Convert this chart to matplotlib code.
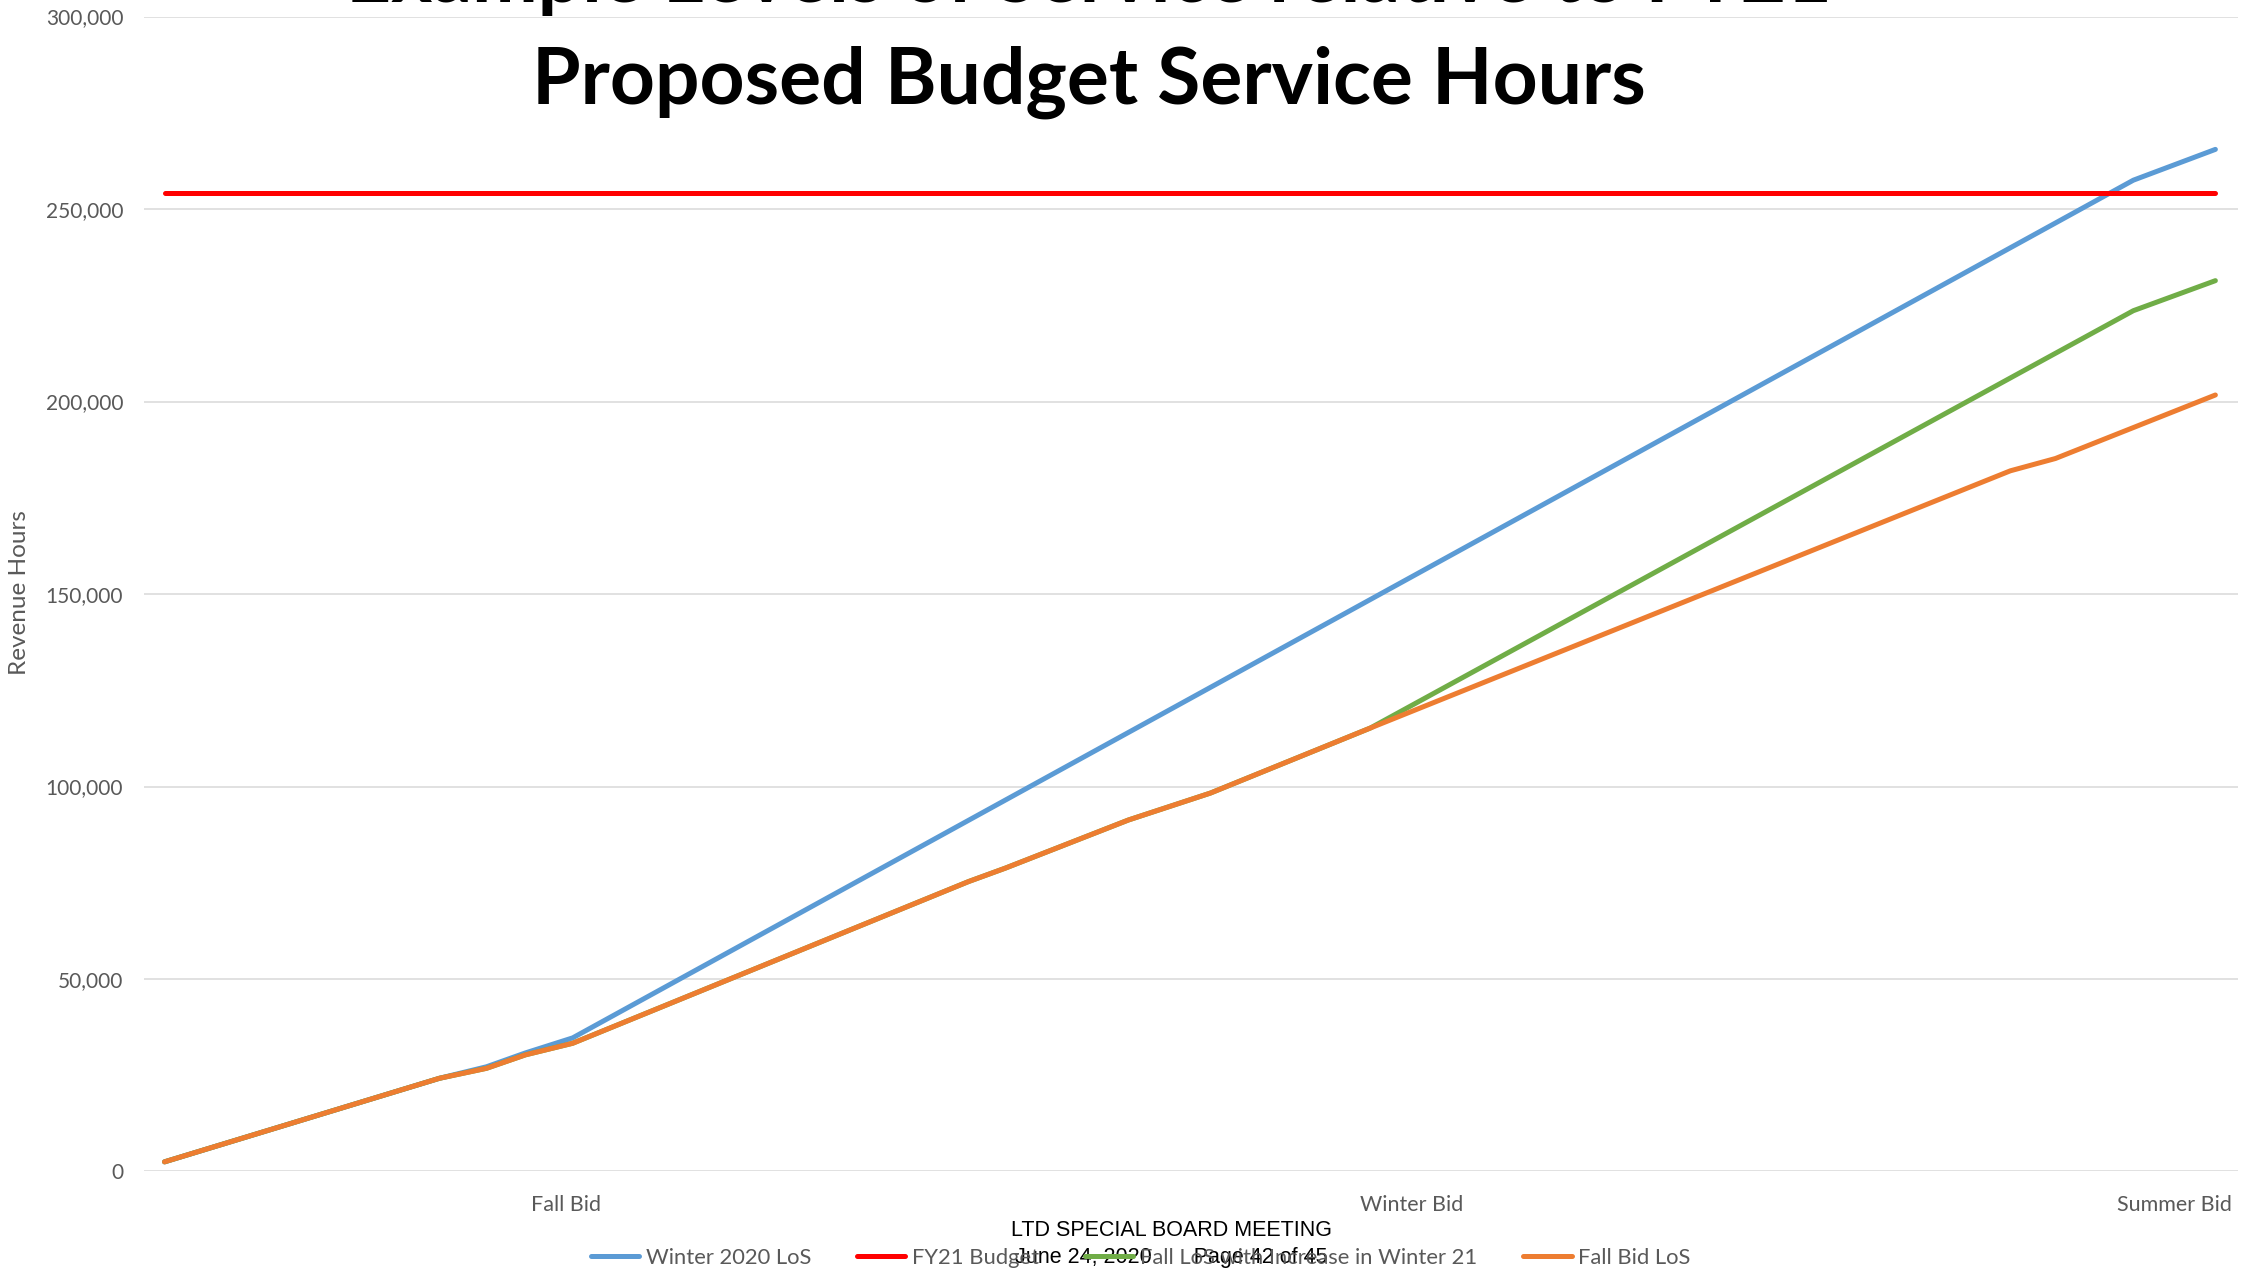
import matplotlib.pyplot as plt
from matplotlib.ticker import FuncFormatter, MultipleLocator

plt.rcParams['font.family'] = ['Lato', 'DejaVu Sans']

# cumulative revenue hours by week of the service year (values at the bends of each line)
winter_weeks = [0, 6.7, 7.85, 8.8, 9.95, 48, 50]
winter_los = [2500, 24200, 27200, 30800, 34700, 257500, 265500]

budget_weeks = [0, 50]
fy21_budget = [254100, 254100]

increase_weeks = [0, 6.7, 7.85, 8.8, 9.95, 19.6, 20.5, 23.5, 25.5, 29.4, 48, 50]
fall_increase_los = [2500, 24200, 26800, 30300, 33300, 75300, 78800, 91300, 98300, 115200,
                     223600, 231400]

fall_weeks = [0, 6.7, 7.85, 8.8, 9.95, 19.6, 20.5, 23.5, 25.5, 29.4, 45.0, 46.1, 50]
fall_bid_los = [2500, 24200, 26800, 30300, 33300, 75300, 78800, 91300, 98300, 115200,
                182000, 185200, 201700]

bid_weeks = [9.8, 30.4, 49.0]
bid_labels = ['Fall Bid', 'Winter Bid', 'Summer Bid']

series_names = ['Winter 2020 LoS', 'FY21 Budget', 'Fall LoS with Increase in Winter 21', 'Fall Bid LoS']
colors = ['#5B9BD5', '#FF0000', '#70AD47', '#ED7D31']

grey = '#595959'

fig = plt.figure(figsize=(22.61, 12.75), dpi=100)
ax = fig.add_axes([0.0637, 0.0812, 0.9261, 0.9058])

lines = []
for xs, ys, c in zip([winter_weeks, budget_weeks, increase_weeks, fall_weeks],
                     [winter_los, fy21_budget, fall_increase_los, fall_bid_los], colors):
    ln, = ax.plot(xs, ys, color=c, lw=3.6, solid_capstyle='round', solid_joinstyle='round')
    lines.append(ln)

ax.set_xlim(-0.5, 50.55)
ax.set_ylim(0, 300000)
ax.yaxis.set_major_locator(MultipleLocator(50000))
ax.yaxis.set_major_formatter(FuncFormatter(lambda v, p: f'{v:,.0f}'))
ax.set_xticks(bid_weeks)
ax.set_xticklabels(bid_labels)
ax.grid(axis='y', color='#D9D9D9', lw=1.1)
ax.set_axisbelow(True)
for s in ax.spines.values():
    s.set_visible(False)
ax.tick_params(axis='y', length=0, labelsize=15, colors=grey, pad=15)
ax.tick_params(axis='x', length=0, labelsize=15.5, colors=grey, pad=17)

fig.text(20 / 2261, 0.535, 'Revenue Hours', rotation=90, ha='center', va='center',
         fontsize=17.5, color=grey)

# two-line slide title, the upper line runs off the top edge
fig.text(0.4818, 1 - 2 / 1275, 'Example Levels of Service relative to FY21', ha='center',
         va='baseline', fontsize=56.5, fontweight='bold', color='black')
fig.text(0.4818, 1 - 104 / 1275, 'Proposed Budget Service Hours', ha='center',
         va='baseline', fontsize=56.5, fontweight='bold', color='black')

fig.legend(lines, series_names, loc='center', bbox_to_anchor=(0.5045, 1 - 1258 / 1275),
           ncol=4, frameon=False, fontsize=15.8, labelcolor=grey, handlelength=2.2,
           handletextpad=0.3, columnspacing=2.1)

footer = ['Liberation Sans Narrow', 'Liberation Sans', 'DejaVu Sans']
fig.text(0.518, 1 - 1231 / 1275, 'LTD SPECIAL BOARD MEETING', ha='center', va='center',
         fontsize=15.5, family=footer, color='black')
fig.text(0.518, 1 - 1257 / 1275, 'June 24, 2020       Page 42 of 45', ha='center', va='center',
         fontsize=15.5, family=footer, color='black')

fig.savefig('out.png', dpi=100)
